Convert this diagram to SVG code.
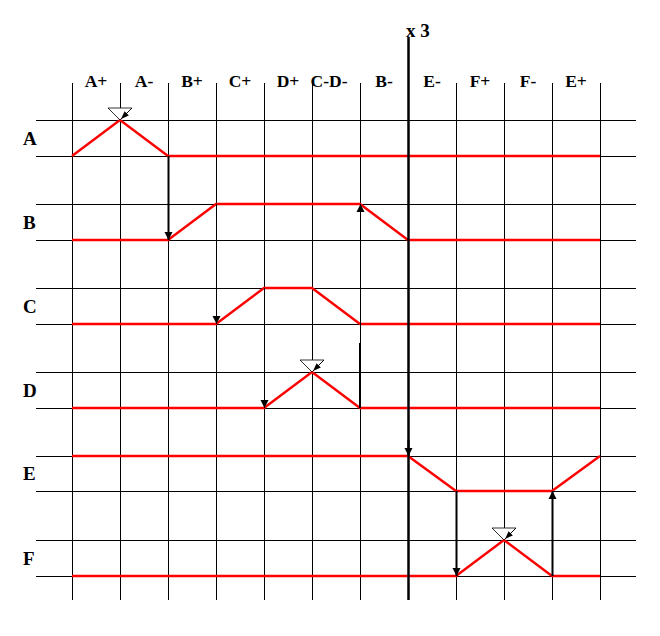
<svg xmlns="http://www.w3.org/2000/svg" width="660" height="636" viewBox="0 0 660 636">
<defs>
<style>
.grid{stroke:#000;stroke-width:1;fill:none;shape-rendering:crispEdges}
.sig{stroke:#ff0000;stroke-width:2.4;fill:none;stroke-linejoin:miter}
.conn{stroke:#000;fill:none}
.hdr{font-family:"Liberation Serif","Times New Roman",serif;font-weight:bold;font-size:17.5px;fill:#000;text-anchor:middle}
.row{font-family:"Liberation Serif","Times New Roman",serif;font-weight:bold;font-size:19px;fill:#000}
.tri{fill:#fff;stroke:#000;stroke-width:0.8}
</style>
<marker id="ah" viewBox="0 0 8 10" refX="8" refY="5" markerWidth="8" markerHeight="10" markerUnits="userSpaceOnUse" orient="auto">
<path d="M0,1 L8,5 L0,9 Z" fill="#000"/>
</marker>
</defs>
<rect width="660" height="636" fill="#fff"/>
<g id="grid" class="grid">
<path d="M36,120.5H636M36,156.5H636M36,204.5H636M36,240.5H636M36,288.5H636M36,324.5H636M36,372.5H636M36,408.5H636M36,456.5H636M36,491.5H636M36,540.5H636M36,576.5H636"/>
<path d="M72.5,83V600M120.5,83V600M168.5,83V600M216.5,83V600M264.5,83V600M312.5,83V600M360.5,83V600M456.5,83V600M504.5,83V600M552.5,83V600M600.5,83V600"/>
</g>
<g id="headers">
<text class="hdr" x="96" y="87">A+</text>
<text class="hdr" x="144" y="87">A-</text>
<text class="hdr" x="192" y="87">B+</text>
<text class="hdr" x="240" y="87">C+</text>
<text class="hdr" x="288" y="87">D+</text>
<text class="hdr" x="329" y="87">C-D-</text>
<text class="hdr" x="384" y="87">B-</text>
<text class="hdr" x="432" y="87">E-</text>
<text class="hdr" x="480" y="87">F+</text>
<text class="hdr" x="528" y="87">F-</text>
<text class="hdr" x="576" y="87">E+</text>
<text class="row" x="406" y="37" font-size="20">x 3</text>
</g>
<g id="A"><text class="row" x="23" y="144.5">A</text><polyline class="sig" points="72,156 120,120 168,156 600,156"/></g>
<g id="B"><text class="row" x="23" y="228.5">B</text><polyline class="sig" points="72,240 168,240 216,204 360,204 408,240 600,240"/></g>
<g id="C"><text class="row" x="23" y="312.5">C</text><polyline class="sig" points="72,324 216,324 264,288 312,288 360,324 600,324"/></g>
<g id="D"><text class="row" x="23" y="396.5">D</text><polyline class="sig" points="72,408 264,408 312,372 360,408 600,408"/></g>
<g id="E"><text class="row" x="23" y="480">E</text><polyline class="sig" points="72,456 408,456 456,491 552,491 600,456"/></g>
<g id="F"><text class="row" x="23" y="564.5">F</text><polyline class="sig" points="72,576 456,576 504,540 552,576 600,576"/></g>
<g id="connectors">
<line class="conn" x1="408.5" y1="37" x2="408.5" y2="600" stroke-width="2.5"/>
<line class="conn" x1="408.5" y1="440" x2="408.5" y2="456" stroke-width="2" marker-end="url(#ah)"/>
<line class="conn" x1="168.5" y1="156" x2="168.5" y2="240" stroke-width="2" marker-end="url(#ah)"/>
<line class="conn" x1="216.5" y1="204" x2="216.5" y2="324" stroke-width="1" marker-end="url(#ah)"/>
<line class="conn" x1="264.5" y1="288" x2="264.5" y2="408" stroke-width="1" marker-end="url(#ah)"/>
<line class="conn" x1="360.5" y1="408" x2="360.5" y2="204" stroke-width="1" marker-end="url(#ah)"/>
<line class="conn" x1="360" y1="343" x2="360" y2="408" stroke-width="2"/>
<line class="conn" x1="456.5" y1="491" x2="456.5" y2="576" stroke-width="2" marker-end="url(#ah)"/>
<line class="conn" x1="552.5" y1="576" x2="552.5" y2="491" stroke-width="2" marker-end="url(#ah)"/>
</g>
<g id="markers">
<g id="mA"><polygon class="tri" points="108,108 132,108 120,120"/><line x1="132" y1="108" x2="121" y2="119" stroke="#000" stroke-width="0.8"/><polygon points="121,119 124.6,111.2 128.8,115.4" fill="#000"/></g>
<g id="mD"><polygon class="tri" points="300,360 324,360 312,372"/><line x1="324" y1="360" x2="313" y2="371" stroke="#000" stroke-width="0.8"/><polygon points="313,371 316.6,363.2 320.8,367.4" fill="#000"/></g>
<g id="mF"><polygon class="tri" points="492,528 516,528 504,540"/><line x1="516" y1="528" x2="505" y2="539" stroke="#000" stroke-width="0.8"/><polygon points="505,539 508.6,531.2 512.8,535.4" fill="#000"/></g>
</g>
</svg>
